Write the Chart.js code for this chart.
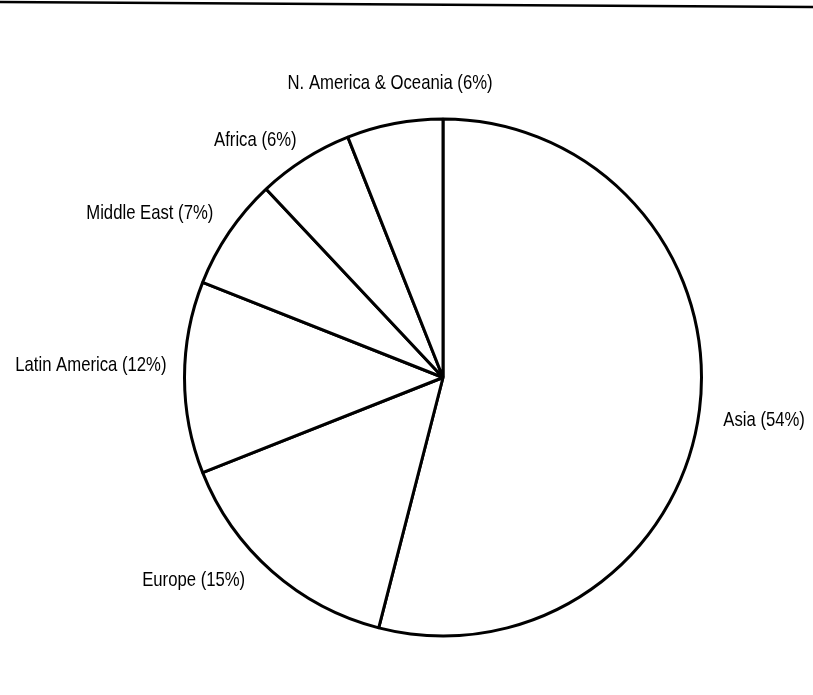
<!DOCTYPE html>
<html>
<head>
<meta charset="utf-8">
<title>Regions</title>
<script src="https://cdn.jsdelivr.net/npm/chart.js@4.4.1/dist/chart.umd.min.js"></script>
<style>
    html, body { margin: 0; padding: 0; background: #fff; }
    #regionChart { display: block; }
</style>
</head>
<body>
<canvas id="regionChart" width="813" height="695"></canvas>
<script>
// slice data, clockwise from 12 o'clock
const regions = ["Asia", "Europe", "Latin America", "Middle East", "Africa", "N. America & Oceania"];
const shares = [54, 15, 12, 7, 6, 6];

// label anchor sits this far past the rim, then a small per-label nudge
const labelGap = 24;
const labelNudge = [[0, 7], [-11, -9], [6, -12], [4, -6], [5, 1], [0, -17]];

// no narrow face installed, so squeeze Liberation Sans sideways
const labelFont = '21px "Liberation Sans", Arial, sans-serif';
const squeeze = 0.795;

const outsideLabels = {
    id: "outsideLabels",
    afterDraw(chart) {
        const ctx = chart.ctx;
        const arcs = chart.getDatasetMeta(0).data;

        ctx.save();
        // scanned page rule across the top
        ctx.strokeStyle = "#000";
        ctx.lineWidth = 2.5;
        ctx.beginPath();
        ctx.moveTo(0, 2);
        ctx.lineTo(chart.width, 7);
        ctx.stroke();

        ctx.font = labelFont;
        ctx.fillStyle = "#000";
        ctx.textBaseline = "middle";
        arcs.forEach(function (arc, i) {
            const mid = (arc.startAngle + arc.endAngle) / 2;
            const r = arc.outerRadius + labelGap;
            const dx = Math.cos(mid), dy = Math.sin(mid);
            const x = arc.x + dx * r + labelNudge[i][0];
            const y = arc.y + dy * r + labelNudge[i][1];
            if (Math.abs(dx) < 0.3) {
                ctx.textAlign = "center";
            } else {
                ctx.textAlign = dx > 0 ? "left" : "right";
            }
            ctx.save();
            ctx.translate(x, y);
            ctx.scale(squeeze, 1);
            ctx.fillText(regions[i] + " (" + shares[i] + "%)", 0, 0);
            ctx.restore();
        });
        ctx.restore();
    }
};

new Chart(document.getElementById("regionChart").getContext("2d"), {
    type: "pie",
    data: {
        labels: regions,
        datasets: [{
            data: shares,
            backgroundColor: "#fff",
            borderColor: "#000",
            borderWidth: 3,
            borderJoinStyle: "bevel"
        }]
    },
    options: {
        responsive: false,
        animation: false,
        radius: 258.5,
        layout: { padding: { left: 93, right: 20, top: 70, bottom: 10 } },
        plugins: {
            legend: { display: false },
            tooltip: { enabled: false }
        }
    },
    plugins: [outsideLabels]
});
</script>
</body>
</html>
